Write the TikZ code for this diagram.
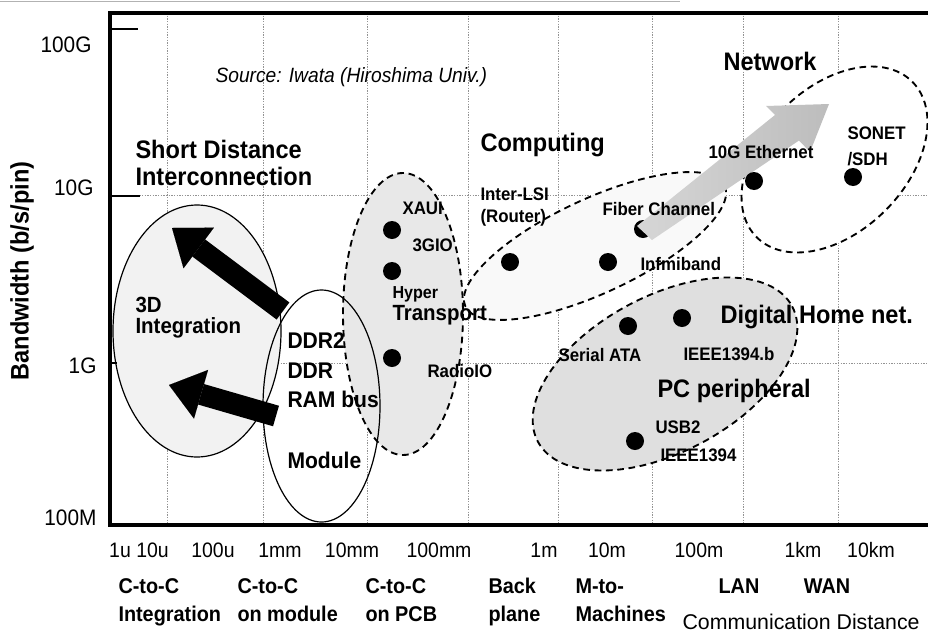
\documentclass[tikz,border=0pt]{standalone}
\usepackage{fontspec}
\setmainfont{Liberation Sans}[FakeStretch=0.93]
\newfontfamily\plainsf{Liberation Sans}
\usetikzlibrary{arrows.meta}
\tikzset{every picture/.style={line width=0.75pt}}
\tikzset{
  gridline/.style={gray!85, line width=0.6pt, dash pattern=on 0.9pt off 1.1pt},
  axisline/.style={line width=3pt, line cap=rect},
  tickmark/.style={line width=2pt},
  zone/.style={line width=0.9pt},
  dashzone/.style={line width=1.4pt, dash pattern=on 5pt off 3.5pt},
  spot/.style={circle, fill=black, inner sep=0pt, minimum size=13.5pt},
  bigtxt/.style={inner sep=0pt, anchor=base west, font=\bfseries\fontsize{19}{22}\selectfont},
  midtxt/.style={inner sep=0pt, anchor=base west, font=\bfseries\fontsize{17}{20}\selectfont},
  smalltxt/.style={inner sep=0pt, anchor=base west, font=\bfseries\fontsize{13.6}{16}\selectfont},
  ytick/.style={inner sep=0pt, anchor=base east, font=\fontsize{16.8}{19}\selectfont},
  xtick/.style={inner sep=0pt, anchor=base, font=\fontsize{15.7}{18}\selectfont},
  cattxt/.style={inner sep=0pt, anchor=base west, font=\bfseries\fontsize{16}{19}\selectfont},
  blackarrow/.style={line width=16pt, -{Triangle[length=25pt,width=38pt,line width=0.01pt]}},
}

\begin{document}
\begin{tikzpicture}[x=0.75pt,y=0.75pt,yscale=-1,xscale=1]
\useasboundingbox (0,0) rectangle (928,632);

%Straight Lines: scan edge
\draw [gray!60, line width=0.6pt] (0,1) -- (680,1);

% grid
\foreach \gx in {167,263,367,468,558,652,743,838}
  \draw [gridline] (\gx,13) -- (\gx,525);
\foreach \gy in {195,363}
  \draw [gridline] (110,\gy) -- (928,\gy);

% zone centres
\coordinate (c3d) at (197,331);
\coordinate (cmod) at (321.5,406);
\coordinate (cpcb) at (403,314);
\coordinate (ccomp) at (595,246);
\coordinate (cnet) at (834.5,159.5);
\coordinate (cpc) at (665,374);

%Shape: Ellipse fills
\fill [gray!10] (c3d) ellipse [x radius=84, y radius=126];
\fill [gray!18] (cpcb) ellipse [x radius=60, y radius=141];
\fill [gray!5] (ccomp) ellipse [x radius=143, y radius=47, rotate=-25];
\fill [white] (cnet) ellipse [x radius=110, y radius=72, rotate=-45];
\fill [gray!25] (cpc) ellipse [x radius=144, y radius=78, rotate=-28];

%Shape: Ellipse outlines
\draw [zone] (c3d) ellipse [x radius=84, y radius=126];
\draw [zone] (cmod) ellipse [x radius=58.5, y radius=116];
\draw [dashzone] (cpcb) ellipse [x radius=60, y radius=141];
\draw [dashzone] (ccomp) ellipse [x radius=143, y radius=47, rotate=-25];
\draw [dashzone] (cnet) ellipse [x radius=110, y radius=72, rotate=-45];
\draw [dashzone] (cpc) ellipse [x radius=144, y radius=78, rotate=-28];

% frame and ticks
\draw [axisline] (110,525) -- (110,13) -- (928,13);
\draw [axisline] (110,525) -- (928,525);
\draw [tickmark] (112,29) -- (138,29);
\draw [tickmark] (112,196) -- (140,196);
\draw [tickmark] (110,363) -- (117,363);

% data points
\node [spot] (dXaui) at (392,230) {};
\node [spot] (dHyper) at (392,271) {};
\node [spot] (dRadio) at (392,358) {};
\node [spot] (dLsi) at (510,262) {};
\node [spot] (dInfini) at (608,262) {};
\node [spot] (dFiber) at (643,229) {};

%Shape: wide arrow towards the network zone
\shade [left color=gray!32, right color=gray!52]
  (637,226) -- (775,115) -- (766,106) -- (829,104) -- (810,152) -- (799,140.5) -- (652,240) -- cycle;

\node [spot] (dEther) at (754,181) {};
\node [spot] (dSonet) at (853,177) {};
\node [spot] (dSata) at (628,326) {};
\node [spot] (dIeeeb) at (682,318) {};
\node [spot] (dUsb) at (635,441) {};

%Straight Lines: black arrows out of the module
\coordinate (modA) at (283,311);
\coordinate (intA) at (172,228);
\coordinate (modB) at (276,416);
\coordinate (intB) at (169,385);
\draw [blackarrow] (modA) -- (intA);
\draw [blackarrow] (modB) -- (intB);

% Text Node
\node [inner sep=0pt, anchor=base west, font=\itshape\fontsize{15.5}{18}\selectfont] (srcnote) at (215,82) {Source: Iwata (Hiroshima Univ.)};
\node [bigtxt] (shortA) at (135,158) {Short Distance};
\node [bigtxt] (shortB) at (135,185) {Interconnection};
\node [bigtxt] (computing) at (480,151) {Computing};
\node [bigtxt] (network) at (723,70) {Network};
\node [bigtxt] (digital) at (720,323) {Digital Home net.};
\node [bigtxt] (pcper) at (657,397) {PC peripheral};
\node [inner sep=0pt, anchor=base west, font=\bfseries\fontsize{16.5}{19}\selectfont] (threeD) at (135,312) {3D};
\node [inner sep=0pt, anchor=base west, font=\bfseries\fontsize{16.5}{19}\selectfont] (integ) at (135,333) {Integration};
\node [midtxt] (ddrtwo) at (287,348) {DDR2};
\node [midtxt] (ddr) at (287,378) {DDR};
\node [midtxt] (rambus) at (287,407) {RAM bus};
\node [midtxt] (module) at (287,468) {Module};
\node [smalltxt] (xaui) at (402,214) {XAUI};
\node [smalltxt] (gio) at (412,251) {3GIO};
\node [inner sep=0pt, anchor=base west, font=\bfseries\fontsize{13}{15}\selectfont] (hyper) at (392,298) {Hyper};
\node [inner sep=0pt, anchor=base west, font=\bfseries\fontsize{16.5}{19}\selectfont] (transport) at (392,320) {Transport};
\node [smalltxt] (radio) at (427,377) {RadioIO};
\node [smalltxt] (lsi) at (480,200) {Inter-LSI};
\node [smalltxt] (router) at (480,222) {(Router)};
\node [smalltxt] (fiber) at (602,215) {Fiber Channel};
\node [smalltxt] (infini) at (640,270) {Infmiband};
\node [smalltxt] (ether) at (708,158) {10G Ethernet};
\node [smalltxt] (sonet) at (847,139) {SONET};
\node [smalltxt] (sdh) at (847,165) {/SDH};
\node [smalltxt] (sata) at (558,361) {Serial ATA};
\node [smalltxt] (ieeeb) at (683,360) {IEEE1394.b};
\node [smalltxt] (usb) at (655,433) {USB2};
\node [smalltxt] (ieee) at (660,461) {IEEE1394};

% axis labels
\node [inner sep=0pt, rotate=90, font=\bfseries\fontsize{19}{22}\selectfont] (ytitle) at (22,271) {Bandwidth (b/s/pin)};
\node [ytick] (t100G) at (92,52) {100G};
\node [ytick] (t10G) at (94,195) {10G};
\node [ytick] (t1G) at (97,373) {1G};
\node [ytick] (t100M) at (97,525) {100M};

\node [xtick] (x1u) at (139,557) {1u 10u};
\node [xtick] (x100u) at (213,557) {100u};
\node [xtick] (x1mm) at (280,557) {1mm};
\node [xtick] (x10mm) at (352,557) {10mm};
\node [xtick] (x100mm) at (439,557) {100mm};
\node [xtick] (x1m) at (544,557) {1m};
\node [xtick] (x10m) at (607,557) {10m};
\node [xtick] (x100m) at (699,557) {100m};
\node [xtick] (x1km) at (803,557) {1km};
\node [xtick] (x10km) at (871,557) {10km};

\node [cattxt] (catA1) at (118,593) {C-to-C};
\node [cattxt] (catA2) at (118,621) {Integration};
\node [cattxt] (catB1) at (237,593) {C-to-C};
\node [cattxt] (catB2) at (237,621) {on module};
\node [cattxt] (catC1) at (365,593) {C-to-C};
\node [cattxt] (catC2) at (365,621) {on PCB};
\node [cattxt] (catD1) at (488,593) {Back};
\node [cattxt] (catD2) at (488,621) {plane};
\node [cattxt] (catE1) at (575,593) {M-to-};
\node [cattxt] (catE2) at (575,621) {Machines};
\node [cattxt, anchor=base] (catLan) at (739,593) {LAN};
\node [cattxt, anchor=base] (catWan) at (827,593) {WAN};
\node [inner sep=0pt, anchor=base west, font=\plainsf\fontsize{16}{19}\selectfont] (distlab) at (682,629) {Communication Distance};

\end{tikzpicture}
\end{document}
